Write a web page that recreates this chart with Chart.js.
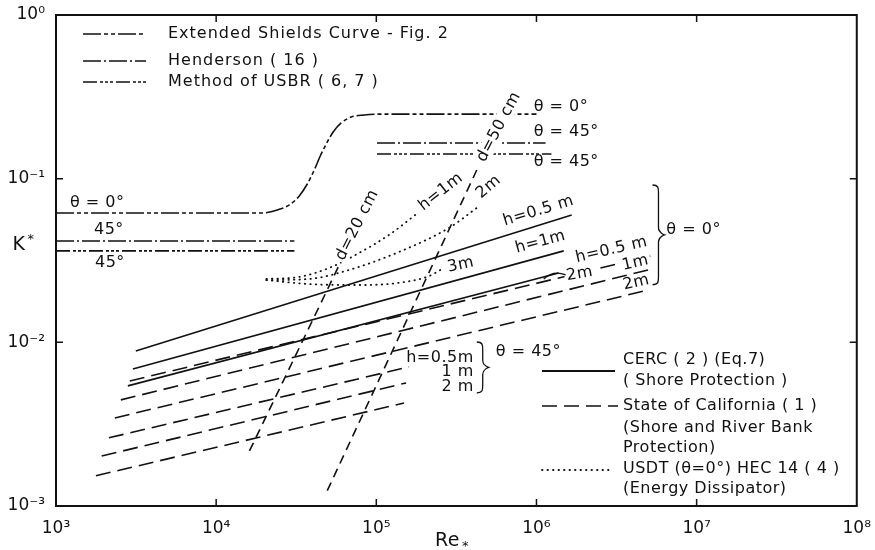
<!DOCTYPE html>
<html>
<head>
<meta charset="utf-8">
<script src="https://cdn.jsdelivr.net/npm/chart.js@4.4.0/dist/chart.umd.min.js"></script>
<style>
  html, body { margin: 0; padding: 0; background: #fff; }
</style>
</head>
<body>
<canvas id="chart" width="875" height="550"></canvas>
<script>
// axes
const xTicks = [1e3, 1e4, 1e5, 1e6, 1e7, 1e8];
const xTickLabels = ['10³', '10⁴', '10⁵', '10⁶', '10⁷', '10⁸'];
const yTicks = [1e-3, 1e-2, 1e-1, 1];
const yTickLabels = ['10⁻³', '10⁻²', '10⁻¹', '10⁰'];

// Extended Shields curve (theta = 0)
const shieldsRe = [1000, 19170, 24120, 28640, 33040, 37060, 41000, 44670, 48690, 53800, 60360, 69680, 83950, 104100, 1.0e6];
const shieldsK  = [0.0617, 0.0617, 0.0644, 0.0691, 0.0784, 0.0928, 0.1130, 0.1376, 0.1629, 0.1929, 0.2189, 0.2381, 0.245, 0.248, 0.248];

// Henderson / USBR, theta = 45
const hendLeftRe = [1000, 30800];   const hendLeftK = [0.0416, 0.0416];
const hendRightRe = [101000, 1.14e6]; const hendRightK = [0.165, 0.165];
const usbrLeftRe = [1000, 30800];   const usbrLeftK = [0.0362, 0.0362];
const usbrRightRe = [101000, 1.24e6]; const usbrRightK = [0.1416, 0.1416];

// stone size lines
const d20Re = [16150, 58700];  const d20K = [0.00217, 0.0297];
const d50Re = [49400, 424000]; const d50K = [0.00124, 0.113];

// CERC, theta = 0 : h = 0.5, 1, 2 m
const cerc05Re = [3150, 1.66e6];  const cerc05K = [0.00886, 0.060];
const cerc1Re  = [3020, 1.48e6];  const cerc1K  = [0.00688, 0.0362];
const cerc2Re  = [2810, 1.375e6]; const cerc2K  = [0.00542, 0.0265];

// State of California, theta = 0
const cal0h05Re = [2890, 5.14e6]; const cal0h05K = [0.00581, 0.0337];
const cal0h1Re  = [2540, 5.0e6];  const cal0h1K  = [0.00445, 0.0277];
const cal0h2Re  = [2330, 5.0e6];  const cal0h2K  = [0.00345, 0.0209];
// State of California, theta = 45
const cal45h05Re = [2140, 160000]; const cal45h05K = [0.00261, 0.00708];
const cal45h1Re  = [1930, 153500]; const cal45h1K  = [0.00202, 0.00565];
const cal45h2Re  = [1775, 149000]; const cal45h2K  = [0.00153, 0.00426];

// USDT HEC 14, theta = 0 : h = 1, 2, 3 m
const usdt1Re = [20600, 33000, 50800, 78200, 120000, 184800];
const usdt1K  = [0.0244, 0.0251, 0.0285, 0.0352, 0.0453, 0.0626];
const usdt2Re = [20600, 38200, 67700, 138800, 284000, 424000];
const usdt2K  = [0.0240, 0.0244, 0.0277, 0.0357, 0.050, 0.0662];
const usdt3Re = [20600, 38200, 78200, 138800, 213000, 264000];
const usdt3K  = [0.0240, 0.0227, 0.0224, 0.0231, 0.0254, 0.0285];

const DASH_SHIELDS = [18, 3, 4, 3, 4, 3];
const DASH_HEND = [18, 3, 2, 3];
const DASH_USBR = [14, 3, 3, 2, 3, 2, 3, 3];
const DASH_CAL = [15, 7];
const DASH_D = [9, 6];
const DASH_DOT = [0.5, 5];
const INK = '#111';
const FONT = '"DejaVu Sans", sans-serif';

function series(re, k, dash, extra) {
  return Object.assign({
    data: re.map((x, i) => ({ x: x, y: k[i] })),
    showLine: true,
    borderColor: INK,
    borderWidth: 1.6,
    borderDash: dash,
    pointRadius: 0,
    fill: false,
    tension: 0
  }, extra || {});
}

// in-plot notes, positioned in data units (Re, K)
const notes = [
  { t: 'θ = 0°', x: 1222, y: 0.0711, align: 'left' },
  { t: '45°', x: 2140, y: 0.0486 },
  { t: '45°', x: 2170, y: 0.0306 },
  { t: 'θ = 0°', x: 9.6e5, y: 0.274, align: 'left' },
  { t: 'θ = 45°', x: 9.6e5, y: 0.193, align: 'left' },
  { t: 'θ = 45°', x: 9.6e5, y: 0.1265, align: 'left' },
  { t: 'd=20 cm', x: 75900, y: 0.0521, rot: -63, bg: true },
  { t: 'd=50 cm', x: 582000, y: 0.207, rot: -62, bg: true },
  { t: 'h=1m', x: 253000, y: 0.083, rot: -38, bg: true },
  { t: '2m', x: 503000, y: 0.089, rot: -40, bg: true },
  { t: '3m', x: 337000, y: 0.0297, rot: -12, bg: true },
  { t: 'h=0.5 m', x: 1.03e6, y: 0.0635, rot: -17 },
  { t: 'h=1m', x: 1.06e6, y: 0.041, rot: -15 },
  { t: 'h=0.5 m', x: 2.94e6, y: 0.0367, rot: -13, bg: true },
  { t: '1m', x: 4.15e6, y: 0.0306, rot: -13, bg: true },
  { t: '2m', x: 4.2e6, y: 0.0232, rot: -13, bg: true },
  { t: '2m', x: 1.86e6, y: 0.0262, rot: -10, bg: true },
  { t: 'h=0.5m', x: 406000, y: 0.00803, align: 'right', bg: true },
  { t: '1 m', x: 406000, y: 0.00659, align: 'right' },
  { t: '2 m', x: 406000, y: 0.00534, align: 'right' },
  { t: 'θ = 45°', x: 557000, y: 0.00874, align: 'left' },
  { t: 'θ = 0°', x: 6.47e6, y: 0.0486, align: 'left' }
];
// braces: x left, x tip, K top, K bottom
const braces = [
  { x0: 424000, x1: 503000, y0: 0.01005, y1: 0.00491 },
  { x0: 5.3e6, x1: 6.3e6, y0: 0.0915, y1: 0.0225 }
];
// leader from the "2m" note to the CERC h = 2 m line
const leader = { p0: [1.52e6, 0.0258], c: [1.28e6, 0.0277], p1: [1.11e6, 0.0244] };

const legendTop = [
  { text: 'Extended Shields Curve - Fig. 2', dash: DASH_SHIELDS, y: 34 },
  { text: 'Henderson ( 16 )', dash: DASH_HEND, y: 61 },
  { text: 'Method of USBR ( 6, 7 )', dash: DASH_USBR, y: 82 }
];
const legendBottom = [
  { text: ['CERC ( 2 ) (Eq.7)', '( Shore Protection )'], dash: [], lineY: 371, textY: [360, 381], x1: 615 },
  { text: ['State of California ( 1 )', '(Shore and River Bank', 'Protection)'], dash: DASH_CAL, lineY: 406, textY: [406, 428, 448], x1: 618 },
  { text: ['USDT (θ=0°) HEC 14 ( 4 )', '(Energy Dissipator)'], dash: DASH_DOT, lineY: 470, textY: [469, 489], x1: 610, dot: true }
];

function txt(ctx, t, x, y, o) {
  o = o || {};
  ctx.save();
  ctx.translate(x, y);
  if (o.rot) ctx.rotate(o.rot * Math.PI / 180);
  ctx.font = (o.size || 16) + 'px ' + FONT;
  ctx.letterSpacing = o.ls || '0.5px';
  const align = o.align || 'center';
  ctx.textAlign = align;
  ctx.textBaseline = 'middle';
  if (o.bg) {
    const w = ctx.measureText(t).width;
    const x0 = align === 'left' ? 0 : align === 'right' ? -w : -w / 2;
    ctx.fillStyle = '#fff';
    ctx.fillRect(x0 - 2, -8, w + 4, 16);
  }
  ctx.fillStyle = INK;
  ctx.fillText(t, 0, 0);
  ctx.restore();
}

function brace(ctx, x0, x1, y0, y1) {
  const xm = (x0 + x1) / 2, ym = (y0 + y1) / 2;
  ctx.beginPath();
  ctx.moveTo(x0, y0);
  ctx.bezierCurveTo(xm, y0, xm, y0 + 3, xm, y0 + 8);
  ctx.lineTo(xm, ym - 7);
  ctx.bezierCurveTo(xm, ym - 2, x1, ym, x1, ym);
  ctx.bezierCurveTo(x1, ym, xm, ym + 2, xm, ym + 7);
  ctx.lineTo(xm, y1 - 8);
  ctx.bezierCurveTo(xm, y1 - 3, xm, y1, x0, y1);
  ctx.stroke();
}

const decor = {
  id: 'decor',
  afterDatasetsDraw(chart) {
    const ctx = chart.ctx, a = chart.chartArea;
    const sx = chart.scales.x, sy = chart.scales.y;
    ctx.save();
    // frame
    ctx.strokeStyle = INK;
    ctx.lineWidth = 2;
    ctx.setLineDash([]);
    ctx.strokeRect(a.left, a.top, a.right - a.left, a.bottom - a.top);
    // inward ticks
    ctx.lineWidth = 1.5;
    ctx.beginPath();
    xTicks.slice(1, -1).forEach(v => {
      const p = sx.getPixelForValue(v);
      ctx.moveTo(p, a.bottom); ctx.lineTo(p, a.bottom - 7);
      ctx.moveTo(p, a.top); ctx.lineTo(p, a.top + 7);
    });
    yTicks.slice(1, -1).forEach(v => {
      const p = sy.getPixelForValue(v);
      ctx.moveTo(a.left, p); ctx.lineTo(a.left + 7, p);
      ctx.moveTo(a.right, p); ctx.lineTo(a.right - 7, p);
    });
    ctx.stroke();

    // notes
    notes.forEach(n => txt(ctx, n.t, sx.getPixelForValue(n.x), sy.getPixelForValue(n.y), n));
    ctx.lineWidth = 1.3;
    braces.forEach(b => brace(ctx, sx.getPixelForValue(b.x0), sx.getPixelForValue(b.x1),
      sy.getPixelForValue(b.y0), sy.getPixelForValue(b.y1)));
    ctx.beginPath();
    ctx.moveTo(sx.getPixelForValue(leader.p0[0]), sy.getPixelForValue(leader.p0[1]));
    ctx.quadraticCurveTo(sx.getPixelForValue(leader.c[0]), sy.getPixelForValue(leader.c[1]),
      sx.getPixelForValue(leader.p1[0]), sy.getPixelForValue(leader.p1[1]));
    ctx.stroke();

    // legends
    ctx.lineWidth = 1.6;
    legendTop.forEach(l => {
      ctx.setLineDash(l.dash);
      ctx.beginPath(); ctx.moveTo(83, l.y); ctx.lineTo(146, l.y); ctx.stroke();
      txt(ctx, l.text, 168, l.y, { align: 'left', ls: '1px' });
    });
    legendBottom.forEach(l => {
      ctx.setLineDash(l.dash);
      ctx.lineCap = l.dot ? 'round' : 'butt';
      ctx.lineWidth = l.dot ? 1.8 : (l.dash.length ? 1.6 : 2.2);
      ctx.beginPath(); ctx.moveTo(542, l.lineY); ctx.lineTo(l.x1, l.lineY); ctx.stroke();
      l.text.forEach((t, i) => txt(ctx, t, 623, l.textY[i], { align: 'left' }));
    });
    ctx.setLineDash([]);
    ctx.lineCap = 'butt';

    // axis titles
    txt(ctx, 'K', 19, 245, { size: 19 });
    txt(ctx, '*', 31, 240, { size: 13 });
    txt(ctx, 'Re', 435, 541, { size: 19, align: 'left' });
    txt(ctx, '*', 462, 547, { size: 13, align: 'left' });
    ctx.restore();
  }
};

const monotone = { cubicInterpolationMode: 'monotone' };
const dots = { borderDash: DASH_DOT, borderCapStyle: 'round', borderWidth: 1.8, cubicInterpolationMode: 'monotone' };

new Chart(document.getElementById('chart'), {
  type: 'scatter',
  data: {
    datasets: [
      series(shieldsRe, shieldsK, DASH_SHIELDS, monotone),
      series(hendLeftRe, hendLeftK, DASH_HEND),
      series(hendRightRe, hendRightK, DASH_HEND),
      series(usbrLeftRe, usbrLeftK, DASH_USBR),
      series(usbrRightRe, usbrRightK, DASH_USBR),
      series(d20Re, d20K, DASH_D),
      series(d50Re, d50K, DASH_D),
      series(cerc05Re, cerc05K, []),
      series(cerc1Re, cerc1K, []),
      series(cerc2Re, cerc2K, []),
      series(cal0h05Re, cal0h05K, DASH_CAL),
      series(cal0h1Re, cal0h1K, DASH_CAL),
      series(cal0h2Re, cal0h2K, DASH_CAL),
      series(cal45h05Re, cal45h05K, DASH_CAL),
      series(cal45h1Re, cal45h1K, DASH_CAL),
      series(cal45h2Re, cal45h2K, DASH_CAL),
      series(usdt1Re, usdt1K, DASH_DOT, dots),
      series(usdt2Re, usdt2K, DASH_DOT, dots),
      series(usdt3Re, usdt3K, DASH_DOT, dots)
    ]
  },
  options: {
    responsive: false,
    animation: false,
    layout: { padding: { top: 15, right: 16, left: 0, bottom: 0 } },
    plugins: { legend: { display: false }, tooltip: { enabled: false } },
    scales: {
      x: {
        type: 'logarithmic', min: 1e3, max: 1e8,
        grid: { display: false }, border: { display: false },
        afterBuildTicks: s => { s.ticks = xTicks.map(v => ({ value: v })); },
        afterFit: s => { s.height = 44; },
        ticks: {
          autoSkip: false, maxRotation: 0, padding: 4, color: INK,
          font: { size: 17, family: FONT },
          callback: (v, i) => xTickLabels[i]
        }
      },
      y: {
        type: 'logarithmic', min: 1e-3, max: 1,
        grid: { display: false }, border: { display: false },
        afterBuildTicks: s => { s.ticks = yTicks.map(v => ({ value: v })); },
        afterFit: s => { s.width = 56; },
        ticks: {
          autoSkip: false, padding: 3, color: INK,
          font: { size: 17, family: FONT },
          callback: (v, i) => yTickLabels[i]
        }
      }
    }
  },
  plugins: [decor]
});
</script>
</body>
</html>
